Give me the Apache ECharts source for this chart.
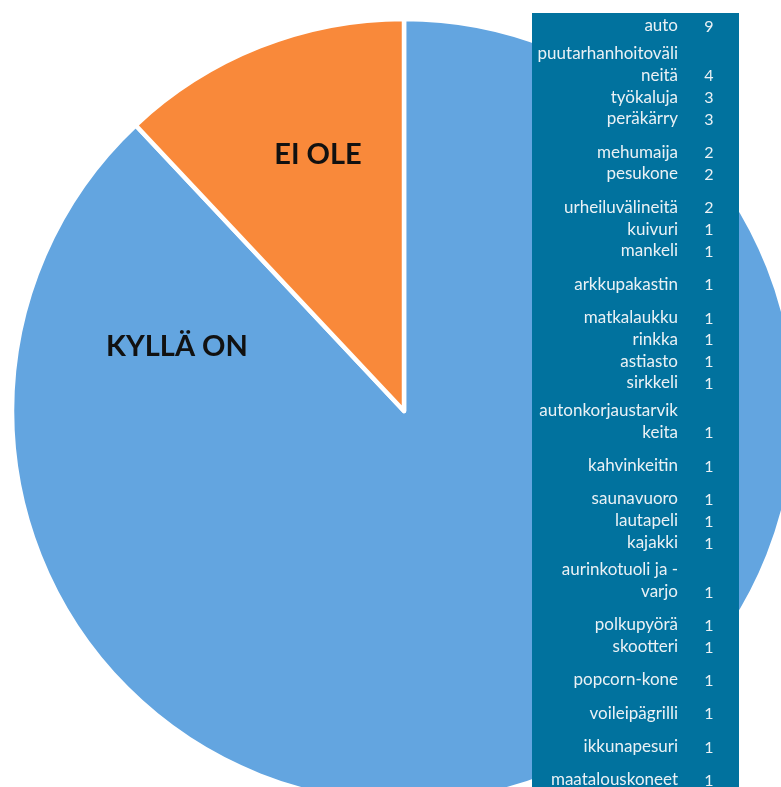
<!DOCTYPE html>
<html>
<head>
<meta charset="utf-8">
<script src="https://cdn.jsdelivr.net/npm/echarts@6/dist/echarts.min.js"></script>
<style>
  html, body { margin: 0; padding: 0; background: #ffffff; }
  #chart { width: 781px; height: 787px; }
</style>
</head>
<body>
<div id="chart"></div>
<script>
// ---- Data ----
const pieCategories = ['KYLLÄ ON', 'EI OLE'];
const pieValues = [88, 12];

const itemNames = [
  'auto', 'puutarhanhoitoväli\nneitä', 'työkaluja', 'peräkärry', 'mehumaija', 'pesukone',
  'urheiluvälineitä', 'kuivuri', 'mankeli', 'arkkupakastin', 'matkalaukku', 'rinkka',
  'astiasto', 'sirkkeli', 'autonkorjaustarvik\nkeita', 'kahvinkeitin', 'saunavuoro',
  'lautapeli', 'kajakki', 'aurinkotuoli ja -\nvarjo', 'polkupyörä', 'skootteri',
  'popcorn-kone', 'voileipägrilli', 'ikkunapesuri', 'maatalouskoneet'
];
const itemCounts = [9, 4, 3, 3, 2, 2, 2, 1, 1, 1, 1, 1, 1, 1, 1, 1, 1, 1, 1, 1, 1, 1, 1, 1, 1, 1];

// ---- Layout (table row spacing: 1 = taller row with extra half line before it) ----
const tallRowBefore = [0, 0, 0, 0, 1, 0, 1, 0, 0, 1, 1, 0, 0, 0, 0, 1, 1, 0, 0, 0, 1, 0, 1, 1, 1, 1];

const chart = echarts.init(document.getElementById('chart'), null, { renderer: 'canvas' });

const tableLeft = 532, tableTop = 13, tableWidth = 207;
const labelRight = 678, countX = 709;
const lineH = 21.85, halfGap = 11.4, wrapGap = 5.5;
const tableFont = 'Lato';
const textColor = '#eaf1f5';

const tableElements = [{
  type: 'rect',
  shape: { x: tableLeft, y: tableTop, width: tableWidth, height: 800 },
  style: { fill: '#01729e' },
  z: 10
}];

let y = 26 - lineH;
itemNames.forEach((name, i) => {
  const lines = name.split('\n');
  y += lineH + (tallRowBefore[i] ? halfGap : 0) + (lines.length > 1 ? wrapGap : 0);
  lines.forEach((ln, j) => {
    if (j > 0) y += lineH;
    tableElements.push({
      type: 'text', z: 11,
      style: {
        text: ln, x: labelRight, y: y, textAlign: 'right', textVerticalAlign: 'middle',
        fill: textColor, font: '17px ' + tableFont
      }
    });
  });
  tableElements.push({
    type: 'text', z: 11,
    style: {
      text: String(itemCounts[i]), x: countX, y: y + 1, textAlign: 'center', textVerticalAlign: 'middle',
      fill: textColor, font: '16px ' + tableFont
    }
  });
});

const pieLabelPos = [[177, 347], [318, 155]];
const pieLabels = pieCategories.map((c, i) => ({
  type: 'text', z: 5,
  style: {
    text: c, x: pieLabelPos[i][0], y: pieLabelPos[i][1], textAlign: 'center', textVerticalAlign: 'middle',
    fill: '#111111', font: 'bold 29px Lato'
  }
}));

chart.setOption({
  animation: false,
  backgroundColor: '#ffffff',
  series: [{
    type: 'pie',
    center: [404, 411],
    radius: 392,
    startAngle: 90,
    clockwise: true,
    label: { show: false },
    labelLine: { show: false },
    itemStyle: { borderColor: '#ffffff', borderWidth: 4.5 },
    data: pieCategories.map((c, i) => ({
      name: c, value: pieValues[i],
      itemStyle: { color: i === 0 ? '#63a5e0' : '#f9893a' }
    }))
  }],
  graphic: pieLabels.concat(tableElements)
});
</script>
</body>
</html>
